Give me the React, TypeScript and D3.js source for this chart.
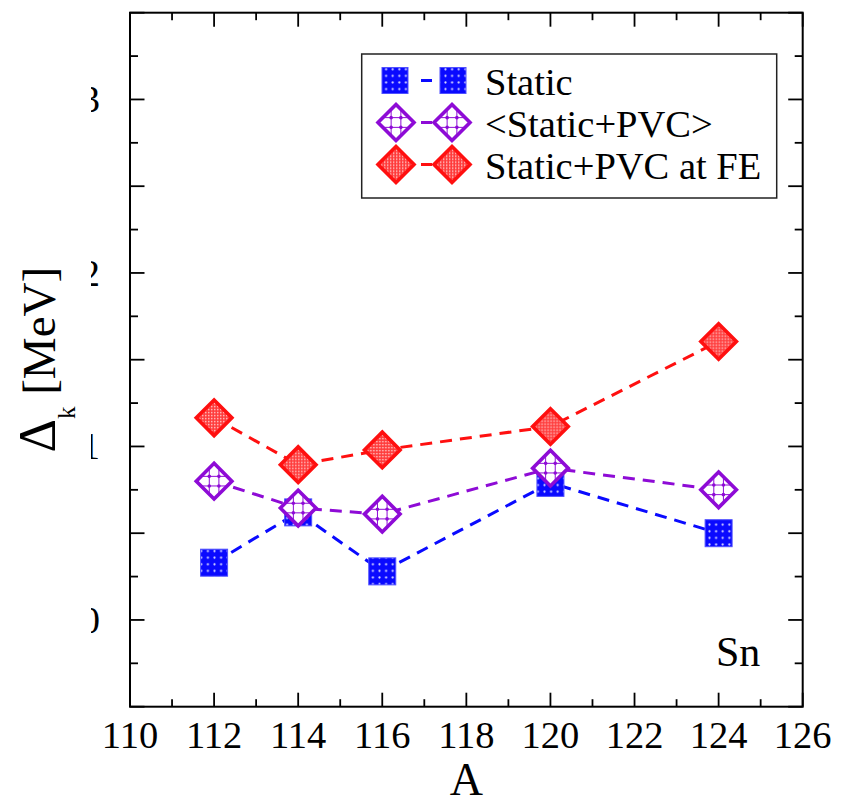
import React from "react";
import * as d3 from "d3";

const massNumbers = [112, 114, 116, 120, 124];
const staticGap = [0.33, 0.62, 0.28, 0.79, 0.5];
const pvcAvgGap = [0.8, 0.645, 0.61, 0.875, 0.75];
const pvcFEGap = [1.165, 0.895, 0.98, 1.115, 1.605];
const xTickLabels = [110, 112, 114, 116, 118, 120, 122, 124, 126];
const yTickLabels = [0, 1, 2, 3];
const legendLabels = ["Static", "<Static+PVC>", "Static+PVC at FE"];

const W = 841;
const H = 806;
const L = 130, R = 802.7, T = 12.7, B = 706.7;
const FONT = "Liberation Serif, Tinos, Times New Roman, DejaVu Serif, serif";
const BLUE = "#0a0aff";
const PURPLE = "#8e0bd6";
const RED = "#ff1010";

const x = d3.scaleLinear().domain([110, 126]).range([L, R]);
const y = d3.scaleLinear().domain([-0.5, 3.5]).range([B, T]);

function SquareMarker({ cx, cy, s }: { cx: number; cy: number; s: number }) {
  return (
    <rect x={cx - s / 2} y={cy - s / 2} width={s} height={s} fill="url(#bluePat)" stroke="#5050ff" strokeWidth={1} />
  );
}

function diamondPath(h: number) {
  return `M0,${-h}L${h},0L0,${h}L${-h},0Z`;
}

function RedDiamond({ cx, cy, h }: { cx: number; cy: number; h: number }) {
  return (
    <path transform={`translate(${cx},${cy})`} d={diamondPath(h)} fill="url(#redPat)" stroke={RED} strokeWidth={3.6} strokeLinejoin="miter" />
  );
}

function PurpleDiamond({ cx, cy, h }: { cx: number; cy: number; h: number }) {
  const a = h * 0.27;
  const e = h - a;
  return (
    <g transform={`translate(${cx},${cy})`}>
      <path d={diamondPath(h)} fill="#fff" stroke={PURPLE} strokeWidth={3.6} />
      <g stroke={PURPLE} strokeWidth={1}>
        <line x1={-a} x2={-a} y1={-e} y2={e} />
        <line x1={a} x2={a} y1={-e} y2={e} />
        <line y1={-a} y2={-a} x1={-e} x2={e} />
        <line y1={a} y2={a} x1={-e} x2={e} />
      </g>
      {[[-a, -a], [a, -a], [-a, a], [a, a]].map(([px, py], i) => (
        <circle key={i} cx={px} cy={py} r={1.8} fill={PURPLE} />
      ))}
    </g>
  );
}

export default function App() {
  const line = d3
    .line<number>()
    .x((_, i) => x(massNumbers[i]))
    .y((v) => y(v));

  const xMajor = d3.range(110, 127, 2);
  const xMinor = d3.range(111, 126, 2);
  const yMajor = d3.range(-0.5, 3.51, 0.5);
  const yMinor = d3.range(-0.25, 3.5, 0.5);

  const dash = "12,8";
  const txt = { fontFamily: FONT };

  return (
    <div style={{ position: "absolute", left: 0, top: 0 }}>
      <svg width={W} height={H} style={{ display: "block", background: "#fff", fontFamily: FONT }}>
        <defs>
          <pattern id="bluePat" width={6.6} height={6.6} patternUnits="userSpaceOnUse">
            <rect width={6.6} height={6.6} fill={BLUE} />
            <circle cx={3.3} cy={3.3} r={1.1} fill="#d8d8ff" />
          </pattern>
          <pattern id="redPat" width={3} height={3} patternUnits="userSpaceOnUse">
            <rect width={3} height={3} fill="#ff3b3b" />
            <rect width={1.4} height={1.4} fill="#ffd0d0" />
          </pattern>
          <clipPath id="yLabClip">
            <rect x={91} y={0} width={40} height={H} />
          </clipPath>
        </defs>

        {/* frame */}
        <rect x={L} y={T} width={R - L} height={B - T} fill="none" stroke="#000" strokeWidth={2} />

        {/* ticks */}
        <g stroke="#000" strokeWidth={1.8}>
          {xMajor.map((v) => (
            <g key={"xM" + v}>
              <line x1={x(v)} x2={x(v)} y1={B} y2={B - 14} />
              <line x1={x(v)} x2={x(v)} y1={T} y2={T + 14} />
            </g>
          ))}
          {xMinor.map((v) => (
            <g key={"xm" + v}>
              <line x1={x(v)} x2={x(v)} y1={B} y2={B - 7.5} />
              <line x1={x(v)} x2={x(v)} y1={T} y2={T + 7.5} />
            </g>
          ))}
          {yMajor.map((v) => (
            <g key={"yM" + v}>
              <line x1={L} x2={L + 14.5} y1={y(v)} y2={y(v)} />
              <line x1={R} x2={R - 14.5} y1={y(v)} y2={y(v)} />
            </g>
          ))}
          {yMinor.map((v) => (
            <g key={"ym" + v}>
              <line x1={L} x2={L + 8} y1={y(v)} y2={y(v)} />
              <line x1={R} x2={R - 8} y1={y(v)} y2={y(v)} />
            </g>
          ))}
        </g>

        {/* x tick labels */}
        {xTickLabels.map((v) => (
          <text key={"xl" + v} x={x(v)} y={748} fontSize={38.5} textAnchor="middle" fill="#000" style={txt}>
            {v}
          </text>
        ))}

        {/* y tick labels (clipped as in the reference) */}
        <g clipPath="url(#yLabClip)">
          {yTickLabels.map((v) => (
            <text key={"yl" + v} x={100} y={y(v) + 13} fontSize={38.5} textAnchor="end" fill="#000" style={txt}>
              {v}
            </text>
          ))}
        </g>

        {/* axis titles */}
        <text x={466.4} y={795} fontSize={46} textAnchor="middle" fill="#000" style={txt}>
          A
        </text>
        <text transform={`translate(55,${(T + B) / 2}) rotate(-90)`} textAnchor="middle" fill="#000" fontSize={47} style={txt}>
          <tspan fontSize={52}>Δ</tspan>
          <tspan fontSize={25} dy={20}>k</tspan>
          <tspan dy={-20}> [MeV]</tspan>
        </text>

        {/* series: Static */}
        <path d={line(staticGap) ?? ""} fill="none" stroke={BLUE} strokeWidth={3} strokeDasharray={dash} />
        {staticGap.map((v, i) => (
          <SquareMarker key={"s" + i} cx={x(massNumbers[i])} cy={y(v)} s={27} />
        ))}

        {/* series: <Static+PVC> */}
        <path d={line(pvcAvgGap) ?? ""} fill="none" stroke={PURPLE} strokeWidth={3} strokeDasharray={dash} />
        {pvcAvgGap.map((v, i) => (
          <PurpleDiamond key={"p" + i} cx={x(massNumbers[i])} cy={y(v)} h={17.8} />
        ))}

        {/* series: Static+PVC at FE */}
        <path d={line(pvcFEGap) ?? ""} fill="none" stroke={RED} strokeWidth={3} strokeDasharray={dash} />
        {pvcFEGap.map((v, i) => (
          <RedDiamond key={"r" + i} cx={x(massNumbers[i])} cy={y(v)} h={17.8} />
        ))}

        {/* legend */}
        <rect x={361.7} y={54} width={415} height={144} fill="#fff" stroke="#222" strokeWidth={1.5} />
        {legendLabels.map((lab, i) => {
          const by = 95 + i * 42;
          const my = by - 14.5;
          const col = [BLUE, PURPLE, RED][i];
          return (
            <g key={"lg" + i}>
              <line x1={421} x2={432} y1={my} y2={my} stroke={col} strokeWidth={3} />
              {i === 0 && (
                <>
                  <SquareMarker cx={395} cy={my} s={26} />
                  <SquareMarker cx={453} cy={my} s={26} />
                </>
              )}
              {i === 1 && (
                <>
                  <PurpleDiamond cx={396} cy={my} h={18} />
                  <PurpleDiamond cx={452} cy={my} h={18} />
                </>
              )}
              {i === 2 && (
                <>
                  <RedDiamond cx={396} cy={my} h={18} />
                  <RedDiamond cx={452} cy={my} h={18} />
                </>
              )}
              <text x={485} y={by} fontSize={38.5} fill="#000" style={txt}>
                {lab}
              </text>
            </g>
          );
        })}

        <text x={716} y={666} fontSize={42} fill="#000" style={txt}>
          Sn
        </text>
      </svg>
    </div>
  );
}
